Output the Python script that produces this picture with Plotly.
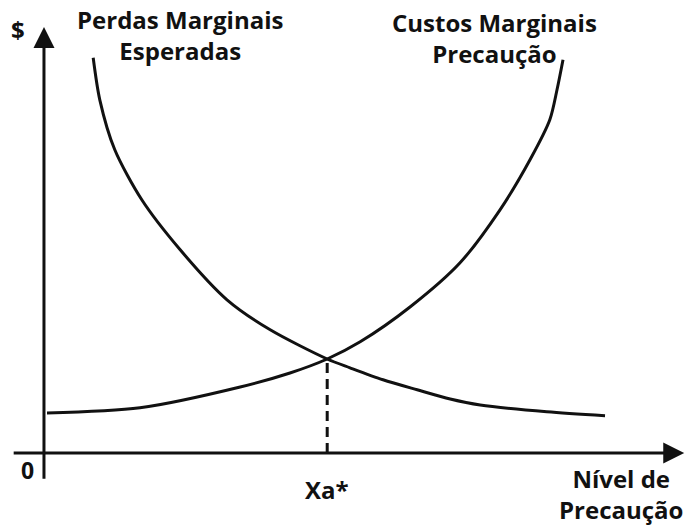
import plotly.graph_objects as go

# Expected marginal losses (decreasing) – level of precaution vs $
perdas_x = [0.82, 0.93, 1.18, 1.63, 2.27, 3.05, 3.77, 4.72, 5.10, 5.65, 6.22, 6.77, 7.27, 8.38, 9.35]
perdas_y = [9.88, 8.83, 7.58, 6.33, 5.08, 3.83, 3.08, 2.35, 2.13, 1.83, 1.58, 1.35, 1.20, 1.03, 0.93]

# Marginal cost of precaution (increasing)
custos_x = [0.05, 1.60, 3.27, 4.10, 4.72, 5.27, 6.10, 6.93, 7.60, 8.10, 8.43, 8.55, 8.65]
custos_y = [1.00, 1.13, 1.65, 2.00, 2.35, 2.78, 3.65, 4.75, 6.08, 7.33, 8.33, 9.08, 9.83]

# Equilibrium level of precaution
xa_star = 4.72
y_star = 2.35

# Axis extents
x_axis_start, x_axis_end = -0.53, 10.67
y_axis_start, y_axis_end = -0.68, 10.65

INK = "#111111"
FONT = "Open Sans"

fig = go.Figure()

fig.add_trace(go.Scatter(x=perdas_x, y=perdas_y, mode="lines",
                         line=dict(color=INK, width=3, shape="spline", smoothing=0.8),
                         hoverinfo="skip"))
fig.add_trace(go.Scatter(x=custos_x, y=custos_y, mode="lines",
                         line=dict(color=INK, width=3, shape="spline", smoothing=0.8),
                         hoverinfo="skip"))
fig.add_trace(go.Scatter(x=[xa_star, xa_star], y=[0, y_star], mode="lines",
                         line=dict(color=INK, width=3, dash="10px,6px"),
                         hoverinfo="skip"))

annotations = []
# axes with arrows
annotations.append(dict(x=0, y=y_axis_end, ax=0, ay=y_axis_start, xref="x", yref="y",
                        axref="x", ayref="y", showarrow=True, arrowhead=2, arrowsize=1.4,
                        arrowwidth=3, arrowcolor=INK, standoff=0, text=""))
annotations.append(dict(x=x_axis_end, y=0, ax=x_axis_start, ay=0, xref="x", yref="y",
                        axref="x", ayref="y", showarrow=True, arrowhead=2, arrowsize=1.4,
                        arrowwidth=3, arrowcolor=INK, standoff=0, text=""))

def label(text, x, y, size=24):
    annotations.append(dict(x=x, y=y, xref="x", yref="y", text="<b>%s</b>" % text,
                            showarrow=False, xanchor="center", yanchor="middle",
                            align="center", borderpad=0,
                            font=dict(family=FONT, size=size, color=INK)))

label("$", -0.43, 10.6)
label("Perdas Marginais<br>Esperadas", 2.27, 10.45)
label("Custos Marginais<br>Precaução", 7.50, 10.38)
label("0", -0.28, -0.42, 23)
label("Xa*", xa_star, -0.92)
label("Nível de<br>Precaução", 9.62, -1.02)

fig.update_layout(
    width=685, height=527,
    margin=dict(l=0, r=0, t=0, b=0),
    paper_bgcolor="white", plot_bgcolor="white",
    showlegend=False,
    annotations=annotations,
    xaxis=dict(range=[-0.733, 10.683], visible=False, fixedrange=True),
    yaxis=dict(range=[-1.85, 11.325], visible=False, fixedrange=True),
)

fig.write_html("out.html", config={"displayModeBar": False},
               post_script="document.body.style.margin='0';")
